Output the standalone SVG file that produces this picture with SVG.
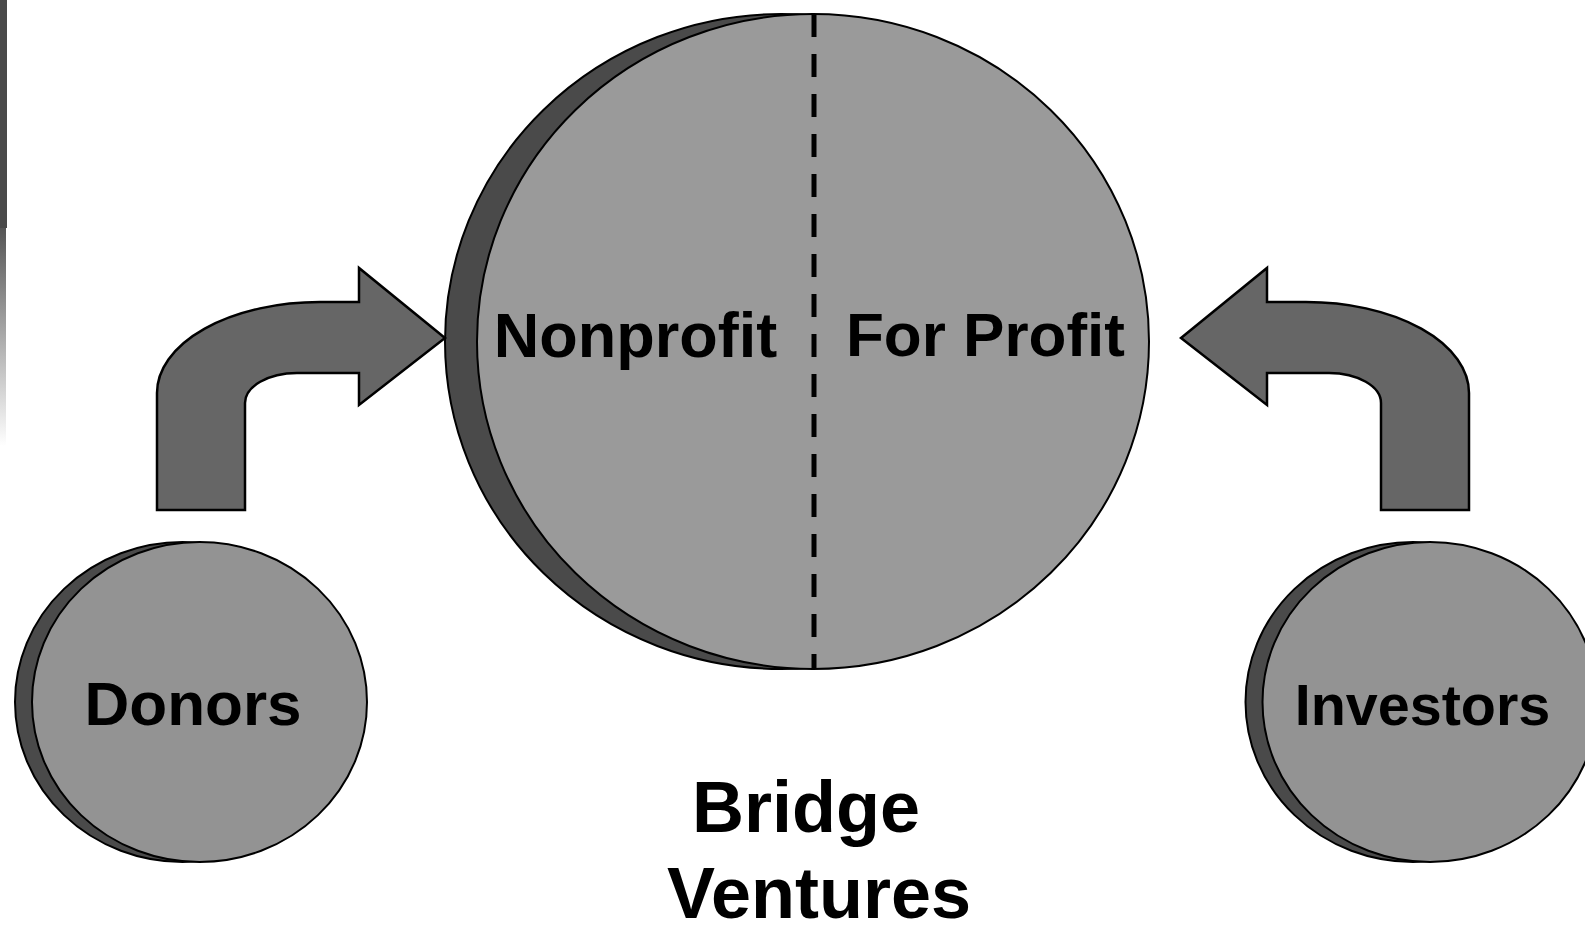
<svg xmlns="http://www.w3.org/2000/svg" width="1585" height="926" viewBox="0 0 1585 926">
<style>
.back{fill:#4a4a4a;stroke:#000;stroke-width:2}
.front{stroke:#000;stroke-width:2}
.arrow{fill:#666666;stroke:#000;stroke-width:2.5;stroke-linejoin:miter}
.lbl{font-family:"Liberation Sans",Arial,sans-serif;font-weight:bold;fill:#000;text-anchor:middle}
</style>
<defs>
<linearGradient id="edge" x1="0" y1="0" x2="0" y2="1">
<stop offset="0" stop-color="#555"/>
<stop offset="1" stop-color="#fff"/>
</linearGradient>
<path id="bent" d="M157,510 L157,393 A163,91 0 0 1 320,302 L359,302 L359,268 L445,338 L359,405 L359,373 L297,373 A52,30 0 0 0 245,403 L245,510 Z"/>
</defs>
<rect width="1585" height="926" fill="#fff"/>
<rect x="0" y="0" width="7" height="228" fill="#4a4a4a"/>
<rect x="0" y="228" width="6" height="218" fill="url(#edge)"/>
<g id="bridge">
<ellipse class="back" cx="781" cy="341.5" rx="336" ry="327.5"/>
<ellipse class="front" cx="813" cy="341.5" rx="336" ry="327.5" fill="#9a9a9a"/>
<line x1="814" y1="14" x2="814" y2="669" stroke="#000" stroke-width="5" stroke-dasharray="23 17"/>
<text class="lbl" x="635.5" y="357" font-size="63">Nonprofit</text>
<text class="lbl" x="985.5" y="356" font-size="62">For Profit</text>
<text class="lbl" x="806" y="832" font-size="72">Bridge</text>
<text class="lbl" x="819" y="918" font-size="72">Ventures</text>
</g>
<g id="donors">
<ellipse class="back" cx="182.5" cy="702" rx="167.5" ry="160"/>
<ellipse class="front" cx="199.5" cy="702" rx="167.5" ry="160" fill="#939393"/>
<text class="lbl" x="193" y="725" font-size="62">Donors</text>
</g>
<g id="investors">
<ellipse class="back" cx="1413" cy="702" rx="167.5" ry="160"/>
<ellipse class="front" cx="1430" cy="702" rx="167.5" ry="160" fill="#939393"/>
<text class="lbl" x="1422.5" y="725" font-size="57.5">Investors</text>
</g>
<g id="connectors">
<use href="#bent" class="arrow"/>
<use href="#bent" class="arrow" transform="translate(1626,0) scale(-1,1)"/>
</g>
</svg>
